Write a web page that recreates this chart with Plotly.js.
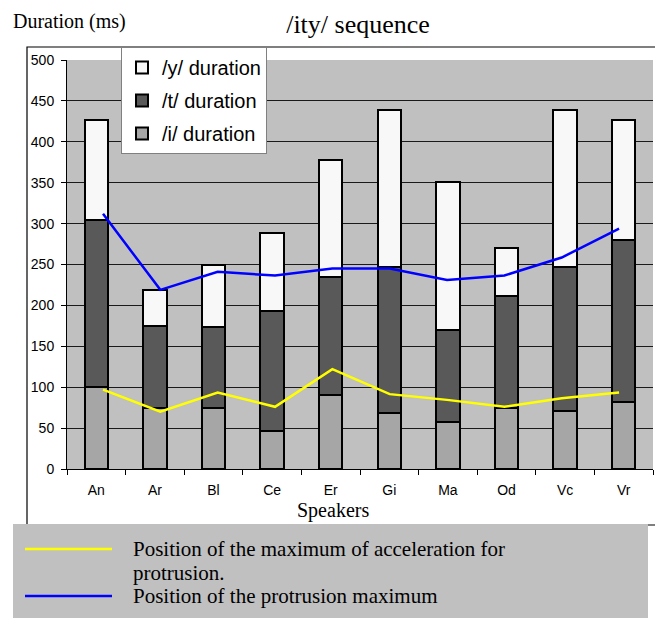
<!DOCTYPE html>
<html><head><meta charset="utf-8">
<script src="https://cdn.plot.ly/plotly-3.0.1.min.js"></script>
<style>body{margin:0;background:#fff}#chart{width:655px;height:619px}</style>
</head><body><div id="chart"></div>
<script>
const speakers = ['An','Ar','Bl','Ce','Er','Gi','Ma','Od','Vc','Vr'];
const iDuration = [100,75,75,46,91,68,57,75,71,82];
const tDuration = [204,100,98,147,144,179,113,137,176,198];
const yDuration = [123,44,77,95,143,192,181,58,192,147];
const accelMaxPos = [97,70,93.5,76,122,91.5,84.5,76,86.5,93.5];
const protrusionMaxPos = [312,219,241,236.5,245,245,231,236.5,258.5,294];
const yTickVals = [0,50,100,150,200,250,300,350,400,450,500];

const barLine = {color:'#000', width:2};
const traces = [
  {type:'bar', name:'/i/ duration', x:speakers, y:iDuration, marker:{color:'#a6a6a6', line:barLine}, legendgroup:'i', legendrank:3},
  {type:'bar', name:'/t/ duration', x:speakers, y:tDuration, marker:{color:'#595959', line:barLine}, legendgroup:'t', legendrank:2},
  {type:'bar', name:'/y/ duration', x:speakers, y:yDuration, marker:{color:'#f8f8f8', line:barLine}, legendgroup:'y', legendrank:1},
  {type:'scatter', mode:'lines', name:'Position of the maximum of acceleration for protrusion.', x:speakers, y:accelMaxPos, xaxis:'x2', line:{color:'#ffff00', width:2.5}, showlegend:false},
  {type:'scatter', mode:'lines', name:'Position of the protrusion maximum', x:speakers, y:protrusionMaxPos, xaxis:'x2', line:{color:'#0000ff', width:2.5}, showlegend:false}
];

const serif = 'Liberation Serif, Times New Roman, serif';
const sans = 'Liberation Sans, Arial, sans-serif';
const L = 67, R = 653, T = 60, B = 469;
const px = v => (v - L) / (R - L);
const py = v => (B - v) / (B - T);

const layout = {
  width:655, height:619,
  margin:{l:L, r:655-R, t:T, b:619-B},
  paper_bgcolor:'#ffffff', plot_bgcolor:'#c0c0c0',
  barmode:'stack', bargap:0.6,
  font:{family:sans, color:'#000', size:14},
  title:{text:'/ity/ sequence', font:{family:serif, size:26, color:'#000'}, x:358/655, xanchor:'center', y:1-24/619, yanchor:'middle'},
  xaxis:{type:'category', categoryarray:speakers, range:[-0.5,9.5], showline:true, linecolor:'#000', linewidth:1,
    ticks:'outside', tickson:'boundaries', ticklen:5, tickcolor:'#000', showgrid:false, zeroline:false,
    tickfont:{family:sans, size:14}, ticklabelstandoff:8, fixedrange:true},
  xaxis2:{type:'category', categoryarray:speakers, overlaying:'x', anchor:'y', range:[-0.628,9.592], visible:false, fixedrange:true},
  yaxis:{range:[0,500], tickvals:yTickVals, showline:true, linecolor:'#000', linewidth:1, ticks:'outside', ticklen:5, tickcolor:'#000',
    showgrid:true, gridcolor:'#1a1a1a', gridwidth:1, zeroline:false, tickfont:{family:sans, size:14}, ticklabelstandoff:4, fixedrange:true},
  legend:{x:px(121), y:py(47), xanchor:'left', yanchor:'top', bgcolor:'#ffffff', bordercolor:'#808080', borderwidth:1,
    traceorder:'grouped', tracegroupgap:4, font:{family:sans, size:20, color:'#000'}, itemwidth:30},
  shapes:[
    {type:'rect', xref:'paper', yref:'paper', x0:px(27), x1:px(700), y0:py(525), y1:py(47), line:{color:'#000', width:1.2}, fillcolor:'rgba(0,0,0,0)', layer:'below'},
    {type:'rect', xref:'paper', yref:'paper', x0:px(13), x1:px(648), y0:py(618), y1:py(524), line:{width:0}, fillcolor:'#c0c0c0', layer:'above'},
    {type:'line', xref:'paper', yref:'paper', x0:px(25), x1:px(112), y0:py(549), y1:py(549), line:{color:'#ffff00', width:2.5}},
    {type:'line', xref:'paper', yref:'paper', x0:px(25), x1:px(112), y0:py(596), y1:py(596), line:{color:'#0000ff', width:2.5}}
  ],
  annotations:[
    {text:'Duration (ms)', xref:'paper', yref:'paper', x:px(11), y:py(21), xanchor:'left', yanchor:'middle', showarrow:false, font:{family:serif, size:20}},
    {text:'Speakers', xref:'paper', yref:'paper', x:px(333), y:py(511), xanchor:'center', yanchor:'middle', showarrow:false, font:{family:serif, size:20}},
    {text:'Position of the maximum of acceleration for', xref:'paper', yref:'paper', x:px(131), y:py(549), xanchor:'left', yanchor:'middle', showarrow:false, font:{family:serif, size:21}},
    {text:'protrusion.', xref:'paper', yref:'paper', x:px(131), y:py(573), xanchor:'left', yanchor:'middle', showarrow:false, font:{family:serif, size:21}},
    {text:'Position of the protrusion maximum', xref:'paper', yref:'paper', x:px(131), y:py(596), xanchor:'left', yanchor:'middle', showarrow:false, font:{family:serif, size:21}}
  ],
  showlegend:true
};

Plotly.newPlot('chart', traces, layout, {displayModeBar:false, staticPlot:true});
</script>
</body></html>
